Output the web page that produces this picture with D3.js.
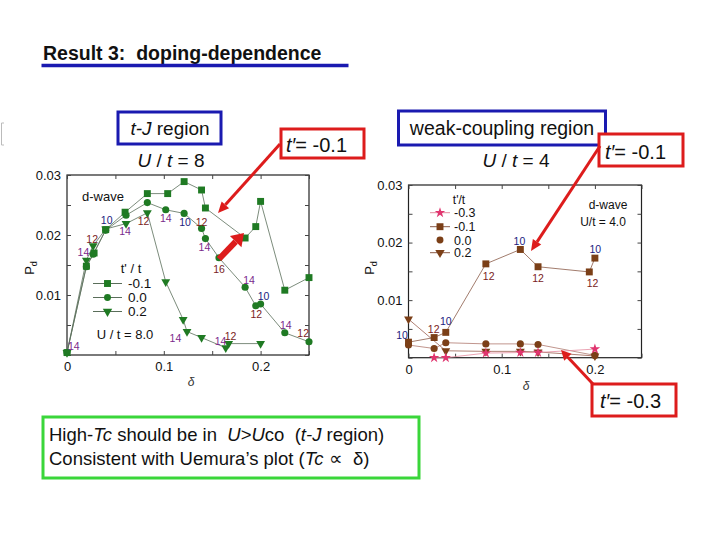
<!DOCTYPE html>
<html>
<head>
<meta charset="utf-8">
<script src="https://cdn.jsdelivr.net/npm/d3@7"></script>
<style>
  body { margin: 0; background: #fff; }
  svg { display: block; font-family: Arial, "Liberation Sans", sans-serif; }
  text { white-space: pre; }
</style>
</head>
<body>
<script>
// ---- データ (δ, P_d) ----
// 左: t-J region, U/t = 8
var tjM01 = [[0, 0.0004], [0.02, 0.0148], [0.028, 0.0170], [0.04, 0.0209], [0.06, 0.0238], [0.083, 0.0269], [0.104, 0.0269], [0.121, 0.0289], [0.139, 0.0275], [0.143, 0.0245], [0.184, 0.0195], [0.195, 0.0214], [0.2, 0.0256], [0.225, 0.0108], [0.25, 0.0129]];
var tj00 = [[0, 0.0004], [0.02, 0.0147], [0.027, 0.0168], [0.04, 0.0208], [0.061, 0.0233], [0.083, 0.0254], [0.102, 0.0242], [0.121, 0.0236], [0.139, 0.0211], [0.143, 0.0194], [0.157, 0.0162], [0.184, 0.0113], [0.195, 0.0082], [0.2, 0.0085], [0.225, 0.0037], [0.25, 0.0022]];
var tj02 = [[0, 0.0004], [0.02, 0.0158], [0.027, 0.0182], [0.04, 0.0210], [0.061, 0.0219], [0.083, 0.0237], [0.102, 0.0122], [0.12, 0.0059], [0.124, 0.0039], [0.139, 0.0029], [0.164, 0.0012], [0.167, 0.0019], [0.2, 0.0019]];
// 格子サイズのラベル (δ, P_d, L)
var tjSizes = [[0.007, 0.0015, 14], [0.017, 0.0171, 14], [0.026, 0.0193, 12], [0.041, 0.0224, 10], [0.060, 0.0206, 14], [0.079, 0.0222, 12], [0.102, 0.0227, 14], [0.122, 0.0221, 10], [0.139, 0.0221, 12], [0.142, 0.0179, 14], [0.157, 0.0142, 16], [0.188, 0.0125, 14], [0.203, 0.0097, 10], [0.1955, 0.0067, 12], [0.226, 0.0050, 14], [0.244, 0.0036, 12], [0.112, 0.0027, 14], [0.1586, 0.0023, 14], [0.169, 0.0031, 12]];

// 右: weak-coupling region, U/t = 4
var wcM03 = [[0.0275, 0.0], [0.04, 0.0], [0.083, 0.0008], [0.12, 0.0009], [0.139, 0.0009], [0.2, 0.0015]];
var wcM01 = [[0, 0.0027], [0.0275, 0.0035], [0.04, 0.0044], [0.083, 0.0163], [0.12, 0.0188], [0.139, 0.0158], [0.194, 0.0149], [0.2, 0.0173]];
var wc00 = [[0, 0.0022], [0.0275, 0.0016], [0.04, 0.0026], [0.083, 0.0024], [0.12, 0.0024], [0.139, 0.0023], [0.2, 0.0004]];
var wc02 = [[0, 0.0067], [0.04, 0.0012], [0.083, 0.0011], [0.12, 0.0011], [0.139, 0.0010], [0.2, 0.0003]];
var wcSizes = [[-0.007, 0.0038, 10], [0.027, 0.0049, 12], [0.04, 0.0063, 10], [0.086, 0.0142, 12], [0.119, 0.0202, 10], [0.139, 0.0138, 12], [0.1975, 0.0129, 12], [0.2004, 0.0188, 10]];

// 軸
var xTicks = [0, 0.05, 0.1, 0.15, 0.2, 0.25];
var xLabels = { 0: "0", 0.1: "0.1", 0.2: "0.2" };
var yTicks = [0, 0.005, 0.01, 0.015, 0.02, 0.025, 0.03];
var yLabels = { 0.01: "0.01", 0.02: "0.02", 0.03: "0.03" };

var svg = d3.select("body").append("svg").attr("width", 720).attr("height", 540);

var green = "#1f7a23";
var brown = "#7b3f17";
var pink = "#e0356f";
var red = "#dd1c1c";
var blue = "#1a1ab0";
var sizeColor = function (n) { return n == 10 ? "#1b1b80" : n == 14 ? "#7a2a8c" : "#7a1c1c"; };

function symbolPath(type, x, y, s) {
    var sym = { sq: d3.symbolSquare, ci: d3.symbolCircle, tr: d3.symbolTriangle, st: d3.symbolStar }[type];
    var rot = type == "tr" ? " rotate(180)" : "";
    return { d: d3.symbol().type(sym).size(s)(), t: "translate(" + x + "," + y + ")" + rot };
}

// パネル描画
function panel(p) {
    var x = d3.scaleLinear().domain([0, 0.25]).range(p.xr);
    var y = d3.scaleLinear().domain([0, 0.03]).range(p.yr);
    var g = svg.append("g");

    // 枠と目盛り(内向き)
    g.append("rect").attr("x", p.xr[0]).attr("y", p.yr[1]).attr("width", p.xr[1] - p.xr[0]).attr("height", p.yr[0] - p.yr[1])
        .attr("fill", "none").attr("stroke", "#222").attr("stroke-width", 1.2);
    var axB = d3.axisBottom(x).tickValues(xTicks).tickSizeInner(-4).tickSizeOuter(0).tickPadding(7).tickFormat(function (d) { return xLabels[d] || ""; });
    var axL = d3.axisLeft(y).tickValues(yTicks).tickSizeInner(-4).tickSizeOuter(0).tickPadding(6).tickFormat(function (d) { return yLabels[d] || ""; });
    var axT = d3.axisTop(x).tickValues(xTicks).tickSizeInner(-4).tickSizeOuter(0).tickFormat("");
    var axR = d3.axisRight(y).tickValues(yTicks).tickSizeInner(-4).tickSizeOuter(0).tickFormat("");
    [[axB, "translate(0," + p.yr[0] + ")"], [axL, "translate(" + p.xr[0] + ",0)"], [axT, "translate(0," + p.yr[1] + ")"], [axR, "translate(" + p.xr[1] + ",0)"]].forEach(function (a) {
        var ag = g.append("g").attr("transform", a[1]).call(a[0]);
        ag.select(".domain").remove();
        ag.selectAll("line").attr("stroke", "#444");
        ag.selectAll("text").attr("font-size", 13).attr("fill", "#111").attr("font-family", "Arial, 'Liberation Sans', sans-serif");
    });

    // 折れ線と記号
    var line = d3.line().x(function (d) { return x(d[0]); }).y(function (d) { return y(d[1]); });
    p.series.forEach(function (s) {
        g.append("path").attr("d", line(s.data)).attr("fill", "none").attr("stroke", s.lc).attr("stroke-width", 0.8);
    });
    p.series.forEach(function (s) {
        g.selectAll(null).data(s.data).enter().append("path")
            .each(function (d) {
                var sp = symbolPath(s.sym, x(d[0]), y(d[1]), s.size);
                d3.select(this).attr("d", sp.d).attr("transform", sp.t);
            })
            .attr("fill", s.color);
    });

    // L のラベル
    g.selectAll(null).data(p.sizes).enter().append("text")
        .attr("x", function (d) { return x(d[0]); })
        .attr("y", function (d) { return y(d[1]); })
        .attr("dy", "0.35em").attr("text-anchor", "middle").attr("font-size", 10.5)
        .attr("fill", function (d) { return sizeColor(d[2]); })
        .text(function (d) { return d[2]; });

    // 軸名
    var pd = g.append("text").attr("transform", "translate(" + p.pdPos[0] + "," + p.pdPos[1] + ") rotate(-90)")
        .attr("text-anchor", "middle").attr("font-size", 13).attr("fill", "#111");
    pd.append("tspan").text("P");
    pd.append("tspan").attr("font-size", 9).attr("dy", 3).text("d");
    g.append("text").attr("x", p.dPos[0]).attr("y", p.dPos[1]).attr("text-anchor", "middle")
        .attr("font-size", 12).attr("font-style", "italic").attr("fill", "#333").text("δ");
    return g;
}

var L = panel({
    xr: [67, 309], yr: [355, 175], pdPos: [34, 268], dPos: [191, 386], sizes: tjSizes,
    series: [
        { data: tjM01, sym: "sq", size: 48, color: green, lc: "#5a6e5a" },
        { data: tj00, sym: "ci", size: 40, color: green, lc: "#5a6e5a" },
        { data: tj02, sym: "tr", size: 34, color: green, lc: "#5a6e5a" }
    ]
});
var R = panel({
    xr: [408.5, 641.5], yr: [357.7, 185], pdPos: [374, 268], dPos: [526, 390], sizes: wcSizes,
    series: [
        { data: wc00, sym: "ci", size: 40, color: brown, lc: "#b07a70" },
        { data: wc02, sym: "tr", size: 34, color: brown, lc: "#9a6050" },
        { data: wcM03, sym: "st", size: 34, color: pink, lc: "#e58ba0" },
        { data: wcM01, sym: "sq", size: 48, color: brown, lc: "#8a5a48" }
    ]
});

// 凡例
function legend(g, rows, x0, x1, tx, fs, color) {
    rows.forEach(function (r) {
        if (r.line) g.append("line").attr("x1", x0).attr("x2", x1).attr("y1", r.y).attr("y2", r.y).attr("stroke", r.lc).attr("stroke-width", 1);
        var sp = symbolPath(r.sym, (x0 + x1) / 2, r.y, r.sym == "sq" ? 48 : r.sym == "st" ? 34 : 38);
        g.append("path").attr("d", sp.d).attr("transform", sp.t).attr("fill", r.color || color);
        g.append("text").attr("x", tx).attr("y", r.y).attr("dy", "0.36em").attr("font-size", fs).attr("fill", "#111").text(r.label);
    });
}
L.append("text").attr("x", 82).attr("y", 201).attr("font-size", 13).attr("fill", "#111").text("d-wave");
L.append("text").attr("x", 131).attr("y", 273).attr("text-anchor", "middle").attr("font-size", 13).attr("fill", "#111").text("t' / t");
legend(L, [
    { y: 283.5, sym: "sq", label: "-0.1", line: true, lc: "#5a6e5a" },
    { y: 297.5, sym: "ci", label: "0.0", line: true, lc: "#5a6e5a" },
    { y: 311.5, sym: "tr", label: "0.2", line: true, lc: "#5a6e5a" }
], 93, 122, 128, 13.5, green);
L.append("text").attr("x", 125).attr("y", 339).attr("text-anchor", "middle").attr("font-size", 13).attr("fill", "#111").text("U / t = 8.0");

R.append("text").attr("x", 459).attr("y", 204).attr("text-anchor", "middle").attr("font-size", 12).attr("fill", "#111").text("t'/t");
legend(R, [
    { y: 212.7, sym: "st", label: "-0.3", line: true, lc: "#e58ba0", color: pink },
    { y: 226.7, sym: "sq", label: "-0.1", line: true, lc: "#8a5a48" },
    { y: 240, sym: "ci", label: "0.0", line: false },
    { y: 252.7, sym: "tr", label: "0.2", line: true, lc: "#8a5a48" }
], 430, 450, 454, 12.5, brown);
R.append("text").attr("x", 608).attr("y", 209).attr("text-anchor", "middle").attr("font-size", 12).attr("fill", "#111").text("d-wave");
R.append("text").attr("x", 603).attr("y", 226).attr("text-anchor", "middle").attr("font-size", 12).attr("fill", "#111").text("U/t = 4.0");

// ---- スライドの注釈 ----
svg.append("text").attr("x", 43).attr("y", 60).attr("font-size", 19.5).attr("font-weight", "bold").attr("fill", "#111").text("Result 3:  doping-dependence");
svg.append("line").attr("x1", 41.5).attr("x2", 348.5).attr("y1", 65.5).attr("y2", 65.5).attr("stroke", blue).attr("stroke-width", 3.5);

svg.append("path").attr("d", "M4,123 H1.5 V145 H4").attr("fill", "none").attr("stroke", "#bbb").attr("stroke-width", 1);

function box(x, y, w, h, color, sw) {
    svg.append("rect").attr("x", x).attr("y", y).attr("width", w).attr("height", h)
        .attr("fill", "#fff").attr("stroke", color).attr("stroke-width", sw);
}
function ital(x, y, parts, fs, anchor) {
    var t = svg.append("text").attr("x", x).attr("y", y).attr("font-size", fs).attr("fill", "#111").attr("text-anchor", anchor || "start");
    parts.forEach(function (p) { t.append("tspan").attr("font-style", p[1] ? "italic" : "normal").text(p[0]); });
    return t;
}
function arrow(x1, y1, x2, y2, w, hl, hw) {
    var a = Math.atan2(y2 - y1, x2 - x1), c = Math.cos(a), s = Math.sin(a);
    var bx = x2 - hl * c, by = y2 - hl * s;
    svg.append("line").attr("x1", x1).attr("y1", y1).attr("x2", bx).attr("y2", by).attr("stroke", red).attr("stroke-width", w);
    svg.append("path").attr("d", "M" + x2 + "," + y2 + "L" + (bx - hw * s) + "," + (by + hw * c) + "L" + (bx + hw * s) + "," + (by - hw * c) + "Z").attr("fill", red);
}

box(118, 112, 103, 32, blue, 3);
ital(170, 135, [["t-J", true], [" region", false]], 19, "middle");
ital(171, 167, [["U", true], [" / ", false], ["t", true], [" = 8", false]], 19, "middle");

box(281, 129, 83, 29, red, 3);
ital(286, 152, [["t\u2032", true], ["= -0.1", false]], 20);
arrow(280, 144, 218, 213, 3, 11, 5);
arrow(219, 259, 244, 233, 6, 12, 8);

box(398.5, 111, 207, 34, blue, 3);
ital(502, 135, [["weak-coupling region", false]], 19.5, "middle");
ital(516, 167, [["U", true], [" / ", false], ["t", true], [" = 4", false]], 19, "middle");

box(599, 134, 84, 32, red, 3);
ital(605, 159, [["t\u2032", true], ["= -0.1", false]], 20);
arrow(600, 146, 531, 251, 3, 11, 5);

box(592, 384, 84, 32, red, 3);
ital(600, 408, [["t\u2032", true], ["= -0.3", false]], 20);
arrow(593, 384, 561, 350, 3, 10, 5);

box(43, 417, 376, 61, "#3ad63a", 3);
ital(49, 441, [["High-", false], ["Tc", true], [" should be in  ", false], ["U", true], [">", false], ["U", true], ["co  (", false], ["t-J", true], [" region)", false]], 18.5);
ital(49, 465, [["Consistent with Uemura\u2019s plot (", false], ["Tc", true], [" \u221d  \u03b4)", false]], 18.5);
</script>
</body>
</html>
